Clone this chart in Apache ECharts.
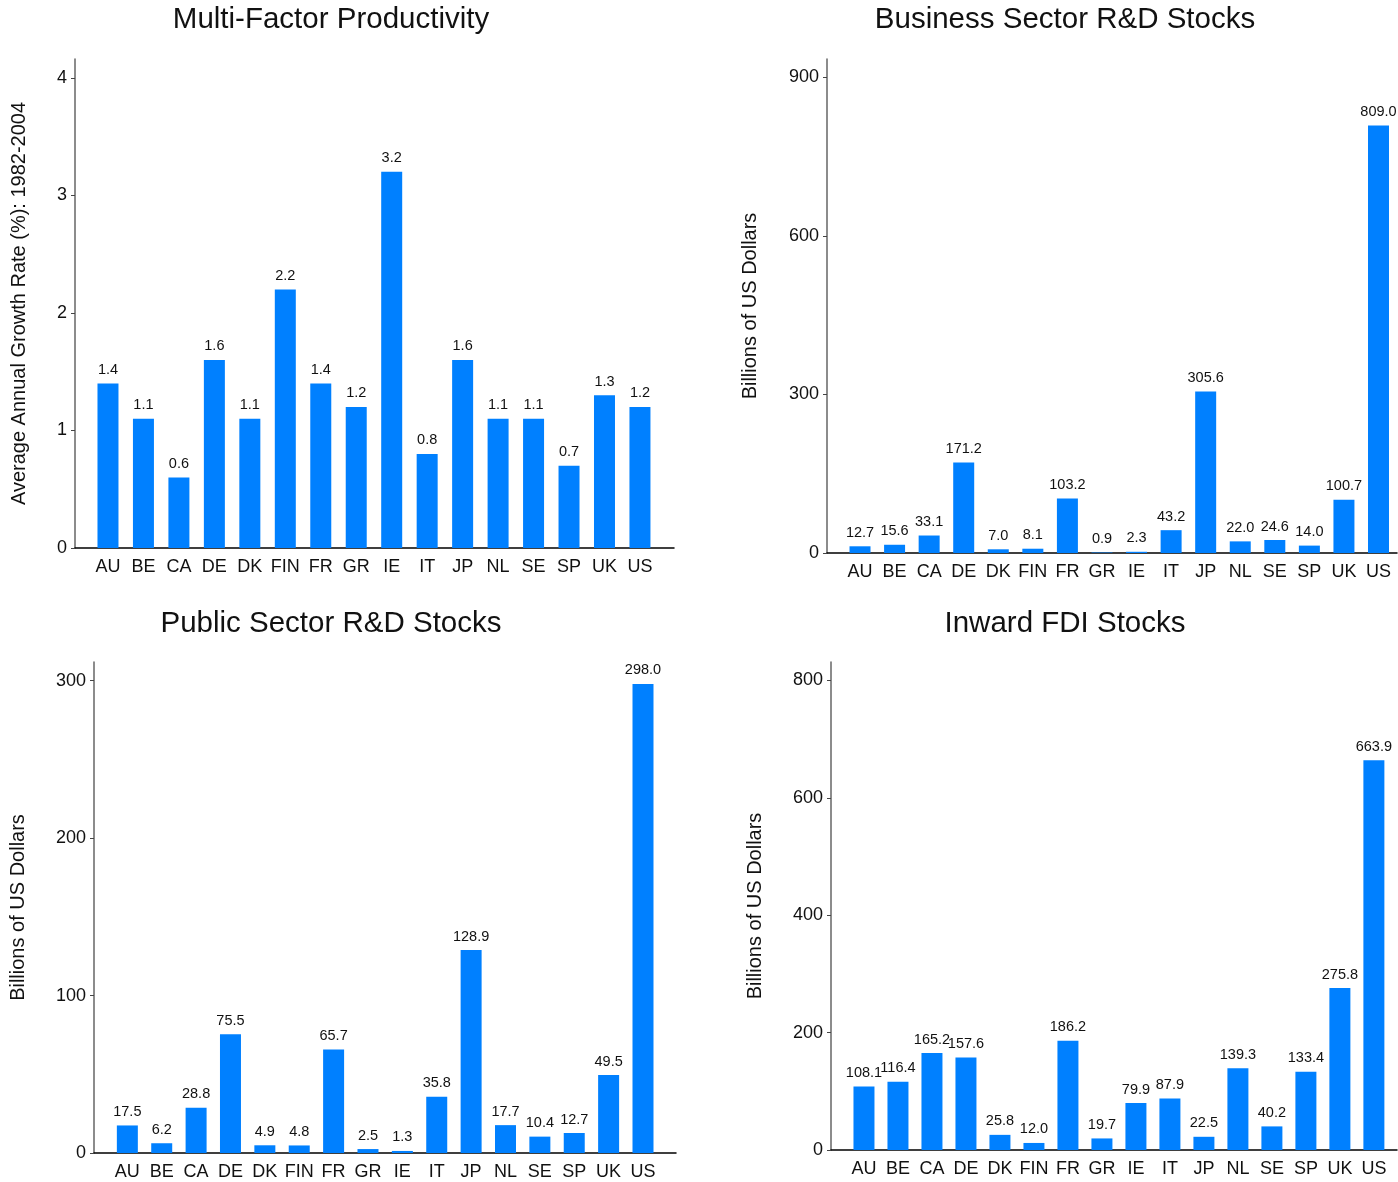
<!DOCTYPE html>
<html>
<head>
<meta charset="utf-8">
<script src="https://cdn.jsdelivr.net/npm/echarts@6/dist/echarts.min.js"></script>
<style>
html,body{margin:0;padding:0;background:#fff;}
#chart{width:1398px;height:1182px;}
</style>
</head>
<body>
<div id="chart"></div>
<script>
const categories = ['AU','BE','CA','DE','DK','FIN','FR','GR','IE','IT','JP','NL','SE','SP','UK','US'];
const mfpValues = [1.4,1.1,0.6,1.6,1.1,2.2,1.4,1.2,3.2,0.8,1.6,1.1,1.1,0.7,1.3,1.2];
const businessRDValues = [12.7,15.6,33.1,171.2,7.0,8.1,103.2,0.9,2.3,43.2,305.6,22.0,24.6,14.0,100.7,809.0];
const publicRDValues = [17.5,6.2,28.8,75.5,4.9,4.8,65.7,2.5,1.3,35.8,128.9,17.7,10.4,12.7,49.5,298.0];
const fdiValues = [108.1,116.4,165.2,157.6,25.8,12.0,186.2,19.7,79.9,87.9,22.5,139.3,40.2,133.4,275.8,663.9];
const mfpTicks = [0,1,2,3,4];
const businessTicks = [0,300,600,900];
const publicTicks = [0,100,200,300];
const fdiTicks = [0,200,400,600,800];
const titles = ['Multi-Factor Productivity','Business Sector R&D Stocks','Public Sector R&D Stocks','Inward FDI Stocks'];
const yNames = ['Average Annual Growth Rate (%): 1982-2004','Billions of US Dollars','Billions of US Dollars','Billions of US Dollars'];

const FONT = '"Liberation Sans", Arial, sans-serif';
const TXT = '#111';
const BAR = '#0080ff';

const panels = [
  {values: mfpValues, ticks: mfpTicks, grid:{left:75, top:59, width:599, height:489}, xmin:-0.93, xmax:15.96, ymax:4.16, nameGap:46, titleX:331, titleY:5},
  {values: businessRDValues, ticks: businessTicks, grid:{left:827, top:59, width:570, height:494}, xmin:-0.955, xmax:15.535, ymax:935, nameGap:67, titleX:1065, titleY:5},
  {values: publicRDValues, ticks: publicTicks, grid:{left:94, top:662, width:582, height:491}, xmin:-0.97, xmax:15.96, ymax:311.9, nameGap:66, titleX:331, titleY:609},
  {values: fdiValues, ticks: fdiTicks, grid:{left:831, top:662, width:566, height:488}, xmin:-0.97, xmax:15.68, ymax:831.3, nameGap:66, titleX:1065, titleY:609}
];

const catIdx = categories.map((c,i)=>i);

const option = {
  animation:false,
  backgroundColor:'#fff',
  textStyle:{fontFamily:FONT},
  title: panels.map((p,i)=>({
    text: titles[i], left:p.titleX, top:p.titleY, textAlign:'center', padding:0,
    textStyle:{fontFamily:FONT, fontSize:29.5, fontWeight:'normal', color:TXT}
  })),
  grid: panels.map(p=>Object.assign({containLabel:false}, p.grid)),
  xAxis: panels.map((p,i)=>({
    type:'value', gridIndex:i, min:p.xmin, max:p.xmax,
    splitLine:{show:false},
    axisLine:{show:true, onZero:false, lineStyle:{color:'#000', width:1.5}},
    axisTick:{show:false},
    axisLabel:{customValues:catIdx, formatter:v=>categories[Math.round(v)], fontFamily:FONT, fontSize:18, color:TXT, margin:10, showMinLabel:true, showMaxLabel:true}
  })),
  yAxis: panels.map((p,i)=>({
    type:'value', gridIndex:i, min:0, max:p.ymax,
    name: yNames[i], nameLocation:'middle', nameGap:p.nameGap,
    nameTextStyle:{fontFamily:FONT, fontSize:20, color:TXT},
    splitLine:{show:false},
    axisLine:{show:true, onZero:false, lineStyle:{color:'#666', width:1.5}},
    axisTick:{show:true, customValues:p.ticks, length:4, lineStyle:{color:'#444'}},
    axisLabel:{customValues:p.ticks, fontFamily:FONT, fontSize:18, color:TXT, margin:8}
  })),
  series: panels.map((p,i)=>({
    type:'bar', xAxisIndex:i, yAxisIndex:i, barWidth:21,
    data: p.values.map((v,k)=>[k,v]),
    itemStyle:{color:BAR},
    label:{show:true, position:'top', distance:6, fontFamily:FONT, fontSize:14.5, color:TXT,
      formatter: prm => prm.value[1].toFixed(1)}
  }))
};

const chart = echarts.init(document.getElementById('chart'), null, {renderer:'canvas'});
chart.setOption(option);
</script>
</body>
</html>
